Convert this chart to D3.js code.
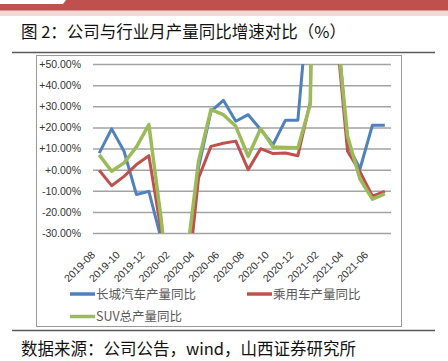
<!DOCTYPE html>
<html>
<head>
<meta charset="utf-8">
<script src="https://cdn.jsdelivr.net/npm/d3@7"></script>
<style>
  body { margin: 0; background: #fff; }
  svg { display: block; }
</style>
</head>
<body>
<div id="chart"></div>
<script>
(() => {

  // monthly categories, 2019-08 .. 2021-07
  let months = ['2019-08', '2019-09', '2019-10', '2019-11', '2019-12',
    '2020-01', '2020-02', '2020-03', '2020-04', '2020-05', '2020-06', '2020-07',
    '2020-08', '2020-09', '2020-10', '2020-11', '2020-12',
    '2021-01', '2021-02', '2021-03', '2021-04', '2021-05', '2021-06', '2021-07'];

  // yoy growth in %, values off the axis range are clipped like in the original
  let gwValues = [7.8, 19.3, 8.7, -11.8, -10.3, -33, -88, -45, 1, 27.6, 32.8, 22.9,
    26, 19, 11.8, 23.4, 23.4, 90, 600, 80, 12, 0.3, 21, 21];
  let pvValues = [-0.3, -7.6, -3.2, 2.4, 6.6, -29.5, -80, -60, -4, 11, 12.5, 13.5,
    0, 9.9, 7.6, 7.9, 6.6, 32, 400, 72, 8.7, -1, -12.5, -10.3];
  let suvValues = [7, -0.8, 3.2, 10.8, 21.3, -24, -80, -44, 4, 28.4, 26, 20.5,
    6.3, 19.4, 10.7, 10.5, 10.3, 31, 450, 75, 15.8, -4.5, -14, -11.5];

  let yTicks = [-30, -20, -10, 0, 10, 20, 30, 40, 50];
  let xTickLabels = ['2019-08', '2019-10', '2019-12', '2020-02', '2020-04', '2020-06',
    '2020-08', '2020-10', '2020-12', '2021-02', '2021-04', '2021-06'];

  let seriesNames = ['长城汽车产量同比', '乘用车产量同比', 'SUV总产量同比'];
  let colors = ['#4f81bd', '#c0504d', '#9bbb59'];

  let W = 448, H = 361;
  let plot = { left: 93, right: 391, top: 64, bottom: 233 };

  let svg = d3.select('#chart')
    .append('svg')
    .attr('width', W)
    .attr('height', H);

  // header band
  svg.append('rect')
    .attr('x', 0).attr('y', 10).attr('width', W).attr('height', 6)
    .attr('fill', '#f3dad9');
  svg.append('path')
    .attr('d', 'M0,4 L63,4 L66,0 L448,0 L448,10.5 L0,10.5 Z')
    .attr('fill', '#c0504d');

  svg.append('text')
    .attr('x', 21)
    .attr('y', 38)
    .attr('font-family', '"Noto Sans CJK SC", sans-serif')
    .attr('font-size', 16.5)
    .attr('fill', '#111')
    .attr('xml:space', 'preserve')
    .text('图 2：公司与行业月产量同比增速对比（%）');

  svg.append('line')
    .attr('x1', 12).attr('x2', 435).attr('y1', 52.5).attr('y2', 52.5)
    .attr('stroke', '#5a5a5a').attr('stroke-width', 1.5);

  // chart frame
  svg.append('rect')
    .attr('x', 36.5).attr('y', 55.5).attr('width', 365).attr('height', 271)
    .attr('fill', '#fff')
    .attr('stroke', '#9a9a9a').attr('stroke-width', 1);

  let xScale = d3.scaleBand()
    .domain(months)
    .range([plot.left, plot.right])
    .padding(0);
  let cx = d => xScale(d) + xScale.bandwidth() / 2;

  let yScale = d3.scaleLinear()
    .domain([-30, 50])
    .range([plot.bottom, plot.top]);

  // gridlines + y labels
  let fmt = v => (v < 0 ? '-' : '+') + Math.abs(v).toFixed(2) + '%';
  let yAxis = d3.axisLeft(yScale)
    .tickValues(yTicks)
    .tickSize(-(plot.right - plot.left))
    .tickPadding(12)
    .tickFormat(fmt);

  let gy = svg.append('g')
    .attr('transform', `translate(${plot.left}, 0)`)
    .call(yAxis);
  gy.select('.domain').remove();
  gy.selectAll('.tick line')
    .attr('stroke', '#a3a3a3')
    .attr('stroke-width', 1.5);
  gy.selectAll('.tick text')
    .attr('font-family', '"Liberation Sans", Arial, sans-serif')
    .attr('font-size', 10.5)
    .attr('fill', '#333');

  // x labels, rotated
  let xAxis = d3.axisBottom(xScale)
    .tickValues(xTickLabels)
    .tickSize(0)
    .tickPadding(0);
  let gx = svg.append('g')
    .attr('transform', `translate(0, ${plot.bottom})`)
    .call(xAxis);
  gx.select('.domain').remove();
  gx.selectAll('.tick text')
    .attr('font-family', '"Liberation Sans", Arial, sans-serif')
    .attr('font-size', 10.5)
    .attr('fill', '#333')
    .attr('text-anchor', 'end')
    .attr('dy', '0.35em')
    .attr('transform', 'translate(-6, 20) rotate(-45)');

  // clip lines to the plot area (values outside the axis range run off)
  svg.append('clipPath')
    .attr('id', 'plotClip')
    .append('rect')
    .attr('x', plot.left)
    .attr('y', plot.top)
    .attr('width', plot.right - plot.left)
    .attr('height', plot.bottom - plot.top);

  let line = d3.line()
    .x((d, i) => cx(months[i]))
    .y(d => yScale(d));

  let lines = svg.append('g').attr('clip-path', 'url(#plotClip)');
  [gwValues, pvValues, suvValues].forEach((vals, k) => {
    lines.append('path')
      .datum(vals)
      .attr('d', line)
      .attr('fill', 'none')
      .attr('stroke', colors[k])
      .attr('stroke-width', k === 2 ? 3.5 : 3)
      .attr('stroke-linejoin', 'round');
  });

  // legend
  let legendPos = [[70, 294], [247, 294], [70, 316.5]];
  seriesNames.forEach((name, k) => {
    let [lx, ly] = legendPos[k];
    svg.append('line')
      .attr('x1', lx).attr('x2', lx + 25).attr('y1', ly).attr('y2', ly)
      .attr('stroke', colors[k]).attr('stroke-width', 3.5);
    svg.append('text')
      .attr('x', lx + 26)
      .attr('y', ly)
      .attr('dy', '0.36em')
      .attr('font-family', '"Noto Sans CJK SC", sans-serif')
      .attr('font-size', 12.5)
      .attr('fill', '#595959')
      .text(name);
  });

  svg.append('line')
    .attr('x1', 12).attr('x2', 435).attr('y1', 330.5).attr('y2', 330.5)
    .attr('stroke', '#5a5a5a').attr('stroke-width', 1.5);

  svg.append('text')
    .attr('x', 21)
    .attr('y', 355)
    .attr('font-family', '"Noto Sans CJK SC", sans-serif')
    .attr('font-size', 16.5)
    .attr('fill', '#111')
    .text('数据来源：公司公告，wind，山西证券研究所');

})()
</script>
</body>
</html>
